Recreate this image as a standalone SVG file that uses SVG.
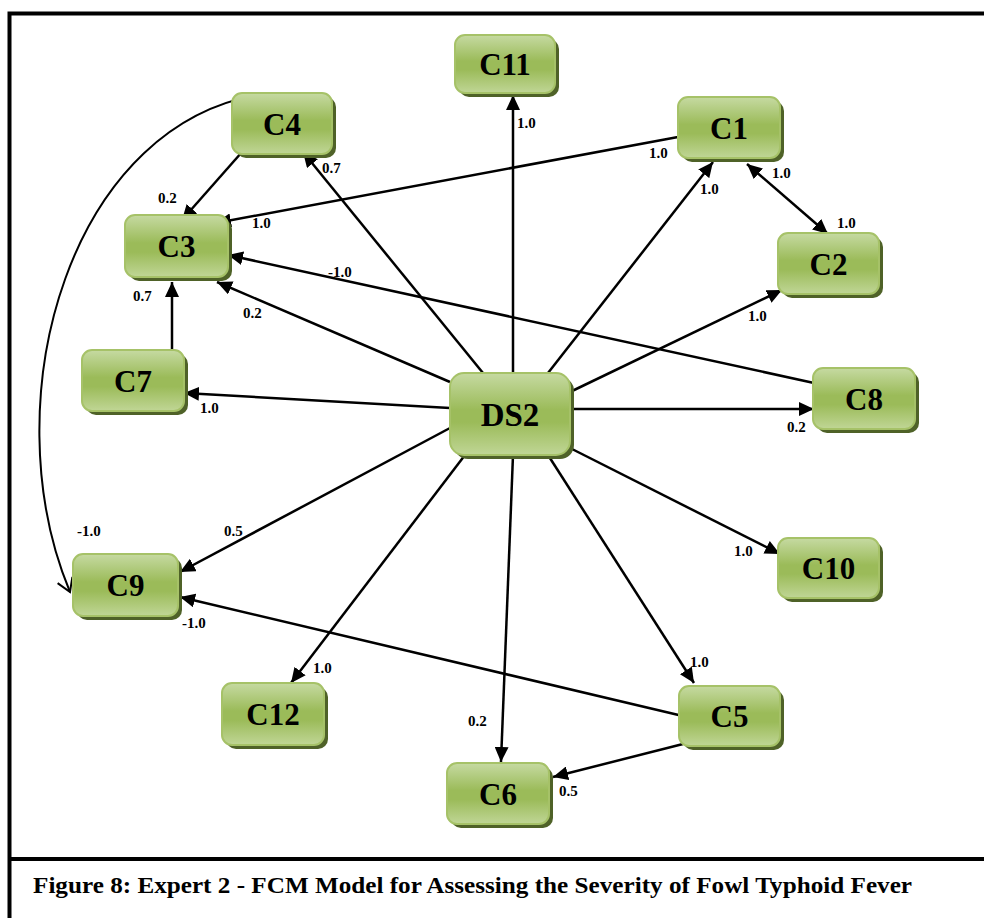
<svg xmlns="http://www.w3.org/2000/svg" width="984" height="918" viewBox="0 0 984 918">
<style>
.box{fill:url(#g);stroke:#a6c268;stroke-width:2}
.sh{fill:#4f6228}
.nt{font-family:'Liberation Serif',serif;font-weight:bold;font-size:31px;fill:#000;text-anchor:middle}
.el{font-family:'Liberation Serif',serif;font-weight:bold;font-size:15px;fill:#000}
.cap{font-family:'Liberation Serif',serif;font-weight:bold;font-size:24px;fill:#000}
.e{stroke:#000;stroke-width:2.5;fill:none;marker-end:url(#ah)}
.fr{stroke:#000;stroke-width:4;fill:none}
</style>
<defs>
<linearGradient id="g" x1="0" y1="0" x2="0" y2="1">
<stop offset="0" stop-color="#c6daa2"/>
<stop offset="0.45" stop-color="#9bbb59"/>
<stop offset="0.6" stop-color="#9bbb59"/>
<stop offset="1" stop-color="#c0d696"/>
</linearGradient>
<marker id="ah" markerUnits="userSpaceOnUse" markerWidth="16" markerHeight="14" refX="15" refY="7" orient="auto-start-reverse">
<path d="M0,0 L15,7 L0,14 z" fill="#000"/>
</marker>
<marker id="va" markerUnits="userSpaceOnUse" markerWidth="16" markerHeight="18" refX="14" refY="9" orient="auto">
<path d="M1,1 L14,9 L1,17" fill="none" stroke="#000" stroke-width="2"/>
</marker>
</defs>
<rect width="984" height="918" fill="#fff"/>
<path class="fr" d="M9.5,918 V13.5 H984"/>
<path class="fr" d="M9.5,859 H984"/>
<text class="cap" x="33" y="893" textLength="879" lengthAdjust="spacingAndGlyphs">Figure 8: Expert 2 - FCM Model for Assessing the Severity of Fowl Typhoid Fever</text>
<g id="connectors">
<line class="e" x1="513" y1="373" x2="513" y2="95"/>
<line class="e" x1="548" y1="373" x2="713" y2="162"/>
<line class="e" x1="570" y1="392" x2="782" y2="290"/>
<line class="e" x1="570" y1="409" x2="814" y2="409"/>
<line class="e" x1="570" y1="448" x2="780" y2="554"/>
<line class="e" x1="548" y1="455" x2="694" y2="683"/>
<line class="e" x1="513" y1="455" x2="501" y2="762"/>
<line class="e" x1="465" y1="455" x2="291" y2="683"/>
<line class="e" x1="450" y1="428" x2="180" y2="572"/>
<line class="e" x1="450" y1="408" x2="184" y2="393"/>
<line class="e" x1="450" y1="382" x2="217" y2="282"/>
<line class="e" x1="483" y1="373" x2="303" y2="152"/>
<line class="e" x1="678" y1="137" x2="216" y2="223"/>
<line class="e" x1="814" y1="383" x2="228" y2="255"/>
<line class="e" x1="747" y1="164" x2="828" y2="234" style="marker-start:url(#ah)"/>
<line class="e" x1="242" y1="152" x2="182" y2="220"/>
<line class="e" x1="172" y1="350" x2="172" y2="282"/>
<line class="e" x1="687" y1="717" x2="180" y2="597"/>
<line class="e" x1="683" y1="744" x2="553" y2="777"/>
<path d="M272,93 C70,115 -10,400 70,592" fill="none" stroke="#000" stroke-width="2" marker-end="url(#va)"/>
<text class="el" x="517" y="128">1.0</text>
<text class="el" x="700" y="194">1.0</text>
<text class="el" x="649" y="158">1.0</text>
<text class="el" x="772" y="178">1.0</text>
<text class="el" x="837" y="228">1.0</text>
<text class="el" x="748" y="321">1.0</text>
<text class="el" x="787" y="432">0.2</text>
<text class="el" x="734" y="556">1.0</text>
<text class="el" x="690" y="667">1.0</text>
<text class="el" x="468" y="726">0.2</text>
<text class="el" x="559" y="796">0.5</text>
<text class="el" x="313" y="673">1.0</text>
<text class="el" x="182" y="628">-1.0</text>
<text class="el" x="224" y="536">0.5</text>
<text class="el" x="77" y="536">-1.0</text>
<text class="el" x="200" y="413">1.0</text>
<text class="el" x="133" y="301">0.7</text>
<text class="el" x="243" y="318">0.2</text>
<text class="el" x="328" y="277">-1.0</text>
<text class="el" x="252" y="228">1.0</text>
<text class="el" x="158" y="203">0.2</text>
<text class="el" x="322" y="173">0.7</text>
</g>
<g id="C11"><rect class="sh" x="459" y="39" width="100" height="58" rx="10"/><rect class="box" x="455" y="35" width="100" height="58" rx="10"/><text class="nt" x="505" y="75">C11</text></g>
<g id="C4"><rect class="sh" x="236" y="97" width="100" height="61" rx="10"/><rect class="box" x="232" y="93" width="100" height="61" rx="10"/><text class="nt" x="282" y="134.5">C4</text></g>
<g id="C3"><rect class="sh" x="129" y="219" width="103" height="62" rx="10"/><rect class="box" x="125" y="215" width="103" height="62" rx="10"/><text class="nt" x="176.5" y="257">C3</text></g>
<g id="C1"><rect class="sh" x="682" y="101" width="102" height="61" rx="10"/><rect class="box" x="678" y="97" width="102" height="61" rx="10"/><text class="nt" x="729" y="138.5">C1</text></g>
<g id="C2"><rect class="sh" x="782" y="237" width="101" height="61" rx="10"/><rect class="box" x="778" y="233" width="101" height="61" rx="10"/><text class="nt" x="828.5" y="274.5">C2</text></g>
<g id="C8"><rect class="sh" x="817" y="372" width="102" height="61" rx="10"/><rect class="box" x="813" y="368" width="102" height="61" rx="10"/><text class="nt" x="864" y="409.5">C8</text></g>
<g id="C10"><rect class="sh" x="782" y="542" width="101" height="60" rx="10"/><rect class="box" x="778" y="538" width="101" height="60" rx="10"/><text class="nt" x="828.5" y="579">C10</text></g>
<g id="C7"><rect class="sh" x="86" y="354" width="102" height="61" rx="10"/><rect class="box" x="82" y="350" width="102" height="61" rx="10"/><text class="nt" x="133" y="391.5">C7</text></g>
<g id="C12"><rect class="sh" x="226" y="687" width="102" height="62" rx="10"/><rect class="box" x="222" y="683" width="102" height="62" rx="10"/><text class="nt" x="273" y="725">C12</text></g>
<g id="C9"><rect class="sh" x="77" y="558" width="105" height="62" rx="10"/><rect class="box" x="73" y="554" width="105" height="62" rx="10"/><text class="nt" x="125.5" y="596">C9</text></g>
<g id="C5"><rect class="sh" x="683" y="690" width="101" height="60" rx="10"/><rect class="box" x="679" y="686" width="101" height="60" rx="10"/><text class="nt" x="729.5" y="727">C5</text></g>
<g id="C6"><rect class="sh" x="451" y="767" width="102" height="61" rx="10"/><rect class="box" x="447" y="763" width="102" height="61" rx="10"/><text class="nt" x="498" y="804.5">C6</text></g>
<g id="DS2"><rect class="sh" x="454" y="377" width="120" height="82" rx="14"/><rect class="box" x="450" y="373" width="120" height="82" rx="14"/><text class="nt" x="510" y="426" style="font-size:33px">DS2</text></g>
</svg>
